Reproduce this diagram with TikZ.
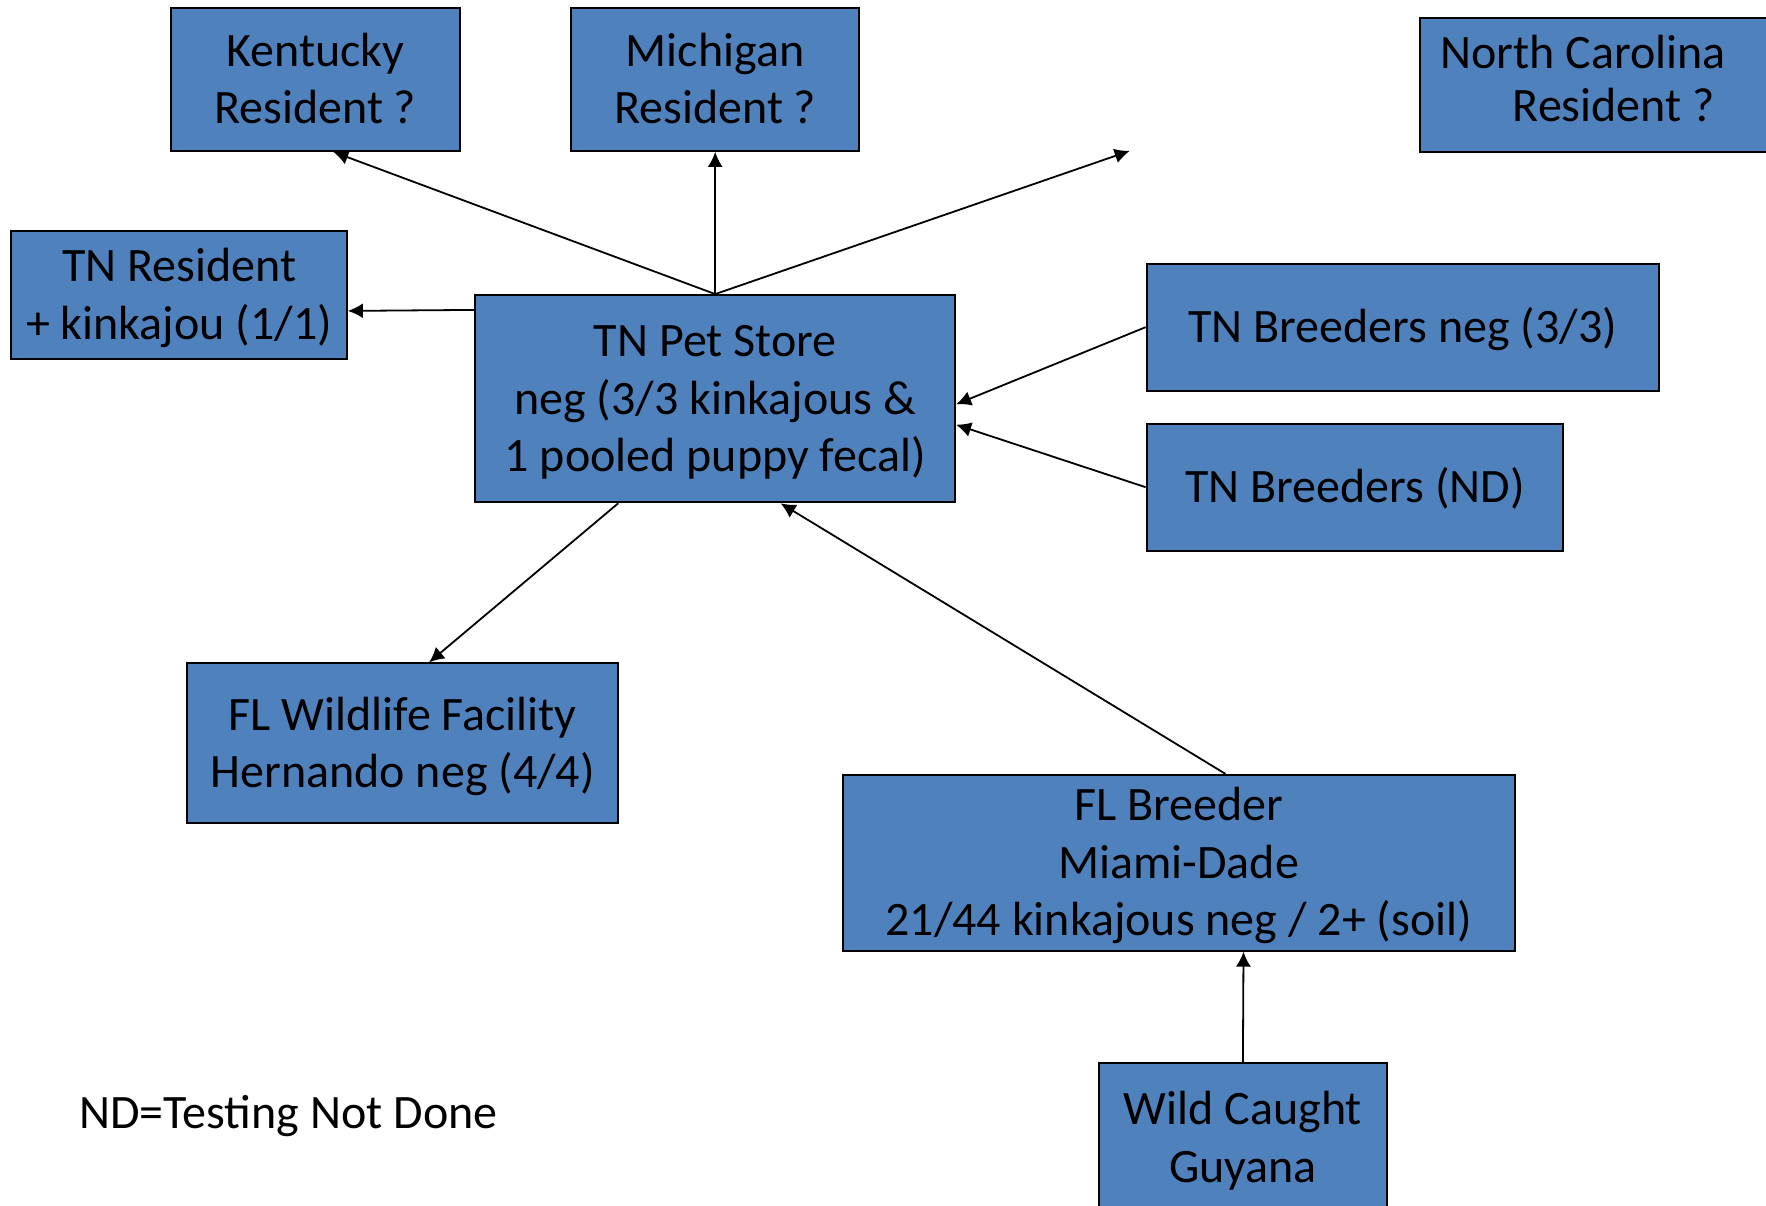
\documentclass[tikz,border=0pt]{standalone}
\usepackage{fontspec}
\setmainfont{Carlito}
\usetikzlibrary{arrows.meta}
\definecolor{boxblue}{HTML}{4F81BD}
\begin{document}
\begin{tikzpicture}[x=0.5pt,y=-0.5pt,
  box/.style={draw=black, line width=1pt, fill=boxblue, align=center, inner sep=0pt,
    font=\fontsize{24}{28.7}\selectfont, text height=15.3pt, text depth=0pt},
  twolines/.style={text height=44pt},
  threelines/.style={text height=72.7pt},
  arr/.style={draw=black, line width=0.9pt, -{Latex[length=7.5pt,width=7.5pt]}}]
\useasboundingbox (0,0) rectangle (1766,1205);
\clip (0,0) rectangle (1766,1205);
\fill[white] (0,0) rectangle (1766,1205);

\node[box, twolines, minimum width=144.2pt, minimum height=71.5pt] (ky) at (315.3,79.4) {Kentucky\\Resident ?};
\node[box, twolines, minimum width=144.2pt, minimum height=71.5pt] (mi) at (715.2,79.4) {Michigan\\Resident ?};
\node[box, minimum width=175pt, minimum height=67pt, anchor=north west, align=left,
  text height=41.8pt, text depth=5.4pt] (nc) at (1419,16.9)
  {North Carolina\hspace*{12pt}\\[-2.2pt]\hspace*{36.2pt}Resident ?};
\node[box, twolines, minimum width=167.8pt, minimum height=64.2pt] (tnr) at (179.1,295.1) {TN Resident\\+ kinkajou (1/1)};
\node[box, threelines, minimum width=239.9pt, minimum height=103.6pt] (ps) at (715.2,398.7) {TN Pet Store\\neg (3/3 kinkajous \&\\1 pooled puppy fecal)};
\node[box, minimum width=256.2pt, minimum height=63.6pt] (tbn) at (1402.8,327.2) {TN Breeders neg (3/3)};
\node[box, minimum width=208.4pt, minimum height=63.6pt] (tbd) at (1355,487.2) {TN Breeders (ND)};
\node[box, twolines, minimum width=215.7pt, minimum height=80pt] (flw) at (402.7,743.4) {FL Wildlife Facility\\Hernando neg (4/4)};
\node[box, threelines, minimum width=336.2pt, minimum height=87.9pt] (flb) at (1178.7,862.8) {FL Breeder\\Miami-Dade\\21/44 kinkajous neg / 2+ (soil)};
\node[box, twolines, minimum width=143.6pt, minimum height=75pt] (wc) at (1242.9,1138) {Wild Caught\\Guyana};
\node[anchor=west, inner sep=0pt, font=\fontsize{24}{28.7}\selectfont, text height=15.3pt, text depth=0pt] (nd) at (78.8,1112.8) {ND=Testing Not Done};

\coordinate (free) at (1129.7,150.9);

\draw[arr] (ps.north) -- ([xshift=9pt]ky.south);
\draw[arr] (ps.north) -- (mi.south);
\draw[arr] (ps.north) -- (free);
\draw[arr] ([yshift=-7.9pt]ps.north west) -- ([yshift=-7.9pt]tnr.east);
\draw[arr] (tbn.west) -- ([yshift=-2.8pt]ps.east);
\draw[arr] (tbd.west) -- ([yshift=-13pt]ps.east);
\draw[arr] ([xshift=-48.5pt]ps.south) -- ([xshift=13.2pt]flw.north);
\draw[arr] ([xshift=23.4pt]flb.north) -- ([xshift=32.7pt]ps.south);
\draw[arr] (wc.north) -- ([xshift=32.4pt]flb.south);
\end{tikzpicture}
\end{document}
